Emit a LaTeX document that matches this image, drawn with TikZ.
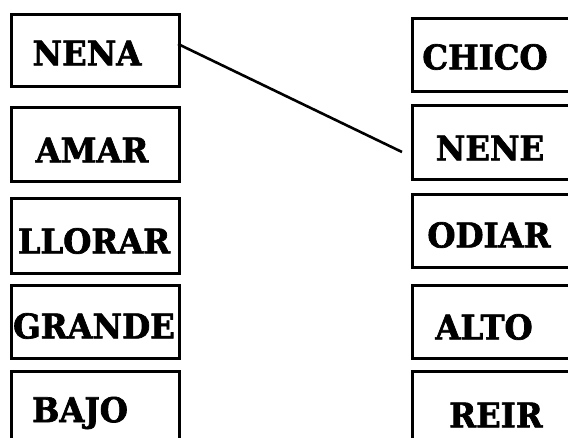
\documentclass[tikz,border=0pt]{standalone}
\usepackage{fontspec}
\newfontfamily\wordfont{DejaVu Serif Bold}[FakeStretch=0.95,FakeBold=2]
\begin{document}
\begin{tikzpicture}[x=1pt,y=-1pt,
  box/.style={draw=black,line width=2.8pt,minimum width=#1,inner sep=0pt,anchor=north west},
  word/.style={font=\fontsize{34}{34}\wordfont,inner sep=0pt}]
\useasboundingbox (0,0) rectangle (568,438);
\clip (0,0) rectangle (568,438);
% left boxes
\node[box=168pt,minimum height=72pt] (b1) at (10,13) {};
\node[box=168pt,minimum height=74pt] (b2) at (10,106) {};
\node[box=168pt,minimum height=75pt] (b3) at (10,197) {};
\node[box=168pt,minimum height=73pt] (b4) at (10,284) {};
\node[box=168pt,minimum height=80pt] (b5) at (10,370) {};
% right boxes
\node[box=170pt,minimum height=73pt] (c1) at (411,17) {};
\node[box=170pt,minimum height=74pt] (c2) at (411,104) {};
\node[box=170pt,minimum height=73pt] (c3) at (411,193) {};
\node[box=170pt,minimum height=73pt] (c4) at (411,284) {};
\node[box=170pt,minimum height=80pt] (c5) at (411,370) {};
% words
\node[word] (w1) at (87,53) {NENA};
\node[word] (w2) at (92,150) {AMAR};
\node[word] (w3) at (94,241) {LLORAR};
\node[word] (w4) at (94,326) {GRANDE};
\node[word] (w5) at (80,413) {BAJO};
\node[word] (v1) at (485,57) {CHICO};
\node[word] (v2) at (490,148) {NENE};
\node[word] (v3) at (489,235) {ODIAR};
\node[word] (v4) at (484,327) {ALTO};
\node[word] (v5) at (496,415) {REIR};
% connector
\coordinate (s) at (178,44);
\coordinate (e) at (402,152);
\draw[line width=2.6pt] (s) -- (e);
\end{tikzpicture}
\end{document}
